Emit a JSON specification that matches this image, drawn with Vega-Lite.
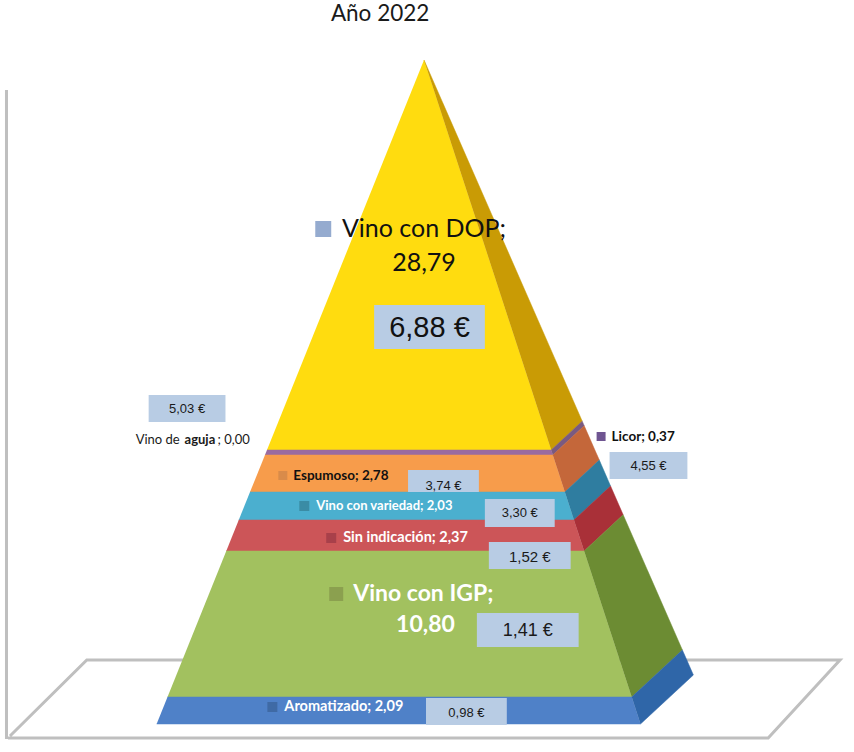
{"$schema":"https://vega.github.io/schema/vega-lite/v6.json","width":854,"height":752,"autosize":{"type":"fit","contains":"padding"},"padding":0,"background":"white","view":{"stroke":null},
"datasets":{
"frame":[{"part":"floor","order":1,"x":6,"y":738},{"part":"floor","order":2,"x":768,"y":738},{"part":"floor","order":3,"x":840,"y":660},{"part":"floor","order":4,"x":85,"y":660},{"part":"floor","order":5,"x":8,"y":736},{"part":"wall","order":1,"x":4.5,"y":90},{"part":"wall","order":2,"x":4.5,"y":739}],
"faces":[
{"p":"DOP front","order":1,"x":423,"y":60},{"p":"DOP front","order":2,"x":550.5,"y":450},{"p":"DOP front","order":3,"x":265.6,"y":450},
{"p":"DOP side","order":1,"x":423,"y":60},{"p":"DOP side","order":2,"x":581.6,"y":421.2},{"p":"DOP side","order":3,"x":550.5,"y":450},
{"p":"Licor front","order":1,"x":265.6,"y":450},{"p":"Licor front","order":2,"x":550.5,"y":450},{"p":"Licor front","order":3,"x":552.1,"y":455},{"p":"Licor front","order":4,"x":263.6,"y":455},
{"p":"Licor side","order":1,"x":550.5,"y":450},{"p":"Licor side","order":2,"x":581.6,"y":421.2},{"p":"Licor side","order":3,"x":583.6,"y":425.8},{"p":"Licor side","order":4,"x":552.1,"y":455},
{"p":"Espumoso front","order":1,"x":263.6,"y":455},{"p":"Espumoso front","order":2,"x":552.1,"y":455},{"p":"Espumoso front","order":3,"x":564.2,"y":492},{"p":"Espumoso front","order":4,"x":248.6,"y":492},
{"p":"Espumoso side","order":1,"x":552.1,"y":455},{"p":"Espumoso side","order":2,"x":583.6,"y":425.8},{"p":"Espumoso side","order":3,"x":598.7,"y":460.1},{"p":"Espumoso side","order":4,"x":564.2,"y":492},
{"p":"Variedad front","order":1,"x":248.6,"y":492},{"p":"Variedad front","order":2,"x":564.2,"y":492},{"p":"Variedad front","order":3,"x":573.3,"y":520},{"p":"Variedad front","order":4,"x":237.3,"y":520},
{"p":"Variedad side","order":1,"x":564.2,"y":492},{"p":"Variedad side","order":2,"x":598.7,"y":460.1},{"p":"Variedad side","order":3,"x":610,"y":486},{"p":"Variedad side","order":4,"x":573.3,"y":520},
{"p":"Sin front","order":1,"x":237.3,"y":520},{"p":"Sin front","order":2,"x":573.3,"y":520},{"p":"Sin front","order":3,"x":583.5,"y":551},{"p":"Sin front","order":4,"x":224.8,"y":551},
{"p":"Sin side","order":1,"x":573.3,"y":520},{"p":"Sin side","order":2,"x":610,"y":486},{"p":"Sin side","order":3,"x":622.6,"y":514.8},{"p":"Sin side","order":4,"x":583.5,"y":551},
{"p":"IGP front","order":1,"x":224.8,"y":551},{"p":"IGP front","order":2,"x":583.5,"y":551},{"p":"IGP front","order":3,"x":631.2,"y":697},{"p":"IGP front","order":4,"x":165.9,"y":697},
{"p":"IGP side","order":1,"x":583.5,"y":551},{"p":"IGP side","order":2,"x":622.6,"y":514.8},{"p":"IGP side","order":3,"x":682,"y":650},{"p":"IGP side","order":4,"x":631.2,"y":697},
{"p":"Aromatizado front","order":1,"x":165.9,"y":697},{"p":"Aromatizado front","order":2,"x":631.2,"y":697},{"p":"Aromatizado front","order":3,"x":640,"y":724},{"p":"Aromatizado front","order":4,"x":155,"y":724},
{"p":"Aromatizado side","order":1,"x":631.2,"y":697},{"p":"Aromatizado side","order":2,"x":682,"y":650},{"p":"Aromatizado side","order":3,"x":693,"y":675},{"p":"Aromatizado side","order":4,"x":640,"y":724}
],
"boxes":[{"label":"5,03 €","x":147,"x2":224,"y":395,"y2":422},{"label":"4,55 €","x":609,"x2":687,"y":452,"y2":479},{"label":"3,74 €","x":407,"x2":478,"y":470,"y2":492},{"label":"3,30 €","x":484,"x2":554,"y":499,"y2":527},{"label":"1,52 €","x":488,"x2":570,"y":542,"y2":569},{"label":"1,41 €","x":476,"x2":578,"y":613,"y2":647},{"label":"0,98 €","x":425,"x2":506,"y":698,"y2":725},{"label":"6,88 €","x":373,"x2":484,"y":305,"y2":349}],
"keys":[{"k":"DOP","x":314,"x2":330,"y":221,"y2":237},{"k":"IGP","x":328,"x2":342,"y":587,"y2":601},{"k":"Licor","x":596,"x2":605,"y":432,"y2":441},{"k":"Espumoso","x":277,"x2":286,"y":471,"y2":480},{"k":"Variedad","x":298,"x2":308,"y":501,"y2":511},{"k":"Sin","x":325,"x2":335,"y":533,"y2":543},{"k":"Aromatizado","x":266,"x2":276,"y":702,"y2":712}]
},
"layer":[
{"data":{"name":"frame"},"mark":{"type":"line","color":"#BFBFBF","strokeWidth":3},"encoding":{"x":{"field":"x","type":"quantitative","scale":{"domain":[0,854],"nice":false},"axis":null},"y":{"field":"y","type":"quantitative","scale":{"domain":[752,0],"nice":false},"axis":null},"detail":{"field":"part"},"order":{"field":"order"}}},
{"data":{"name":"faces"},"mark":{"type":"line","strokeWidth":0.5},"encoding":{"x":{"field":"x","type":"quantitative","axis":null},"y":{"field":"y","type":"quantitative","axis":null},"order":{"field":"order"},
"fill":{"field":"p","type":"nominal","legend":null,"scale":{"domain":["DOP front","DOP side","Licor front","Licor side","Espumoso front","Espumoso side","Variedad front","Variedad side","Sin front","Sin side","IGP front","IGP side","Aromatizado front","Aromatizado side"],"range":["#FFDC0F","#C99B05","#9A6BA0","#7A5A80","#F79C4B","#C4673A","#4BAFCF","#2F7DA0","#CC5558","#A93038","#A2C15F","#6C8C33","#4F81C8","#2F66A8"]}},
"stroke":{"field":"p","type":"nominal","legend":null,"scale":{"domain":["DOP front","DOP side","Licor front","Licor side","Espumoso front","Espumoso side","Variedad front","Variedad side","Sin front","Sin side","IGP front","IGP side","Aromatizado front","Aromatizado side"],"range":["#FFDC0F","#C99B05","#9A6BA0","#7A5A80","#F79C4B","#C4673A","#4BAFCF","#2F7DA0","#CC5558","#A93038","#A2C15F","#6C8C33","#4F81C8","#2F66A8"]}}}},
{"data":{"name":"boxes"},"mark":{"type":"rect","color":"#B8CCE4"},"encoding":{"x":{"field":"x","type":"quantitative","axis":null},"x2":{"field":"x2"},"y":{"field":"y","type":"quantitative","axis":null},"y2":{"field":"y2"}}},
{"data":{"name":"keys"},"mark":{"type":"rect"},"encoding":{"x":{"field":"x","type":"quantitative","axis":null},"x2":{"field":"x2"},"y":{"field":"y","type":"quantitative","axis":null},"y2":{"field":"y2"},"color":{"field":"k","type":"nominal","legend":null,"scale":{"domain":["DOP","IGP","Licor","Espumoso","Variedad","Sin","Aromatizado"],"range":["#95ABCF","#8BA04F","#6F5591","#D98B4A","#3A8CA5","#A8404A","#3F6AA5"]}}}},
{"data":{"values":[{"t":"5,03 €","x":185.5,"y":409},{"t":"4,55 €","x":648,"y":466},{"t":"3,74 €","x":442.5,"y":486},{"t":"3,30 €","x":519,"y":513},{"t":"0,98 €","x":465.5,"y":713}]},"mark":{"type":"text","font":"Liberation Sans","fontSize":13,"color":"#1a1a1a","align":"center","baseline":"middle"},"encoding":{"x":{"field":"x","type":"quantitative","axis":null},"y":{"field":"y","type":"quantitative","axis":null},"text":{"field":"t"}}},
{"data":{"values":[{"t":"1,52 €","x":529,"y":557}]},"mark":{"type":"text","font":"Liberation Sans","fontSize":15,"color":"#1a1a1a","align":"center","baseline":"middle"},"encoding":{"x":{"field":"x","type":"quantitative","axis":null},"y":{"field":"y","type":"quantitative","axis":null},"text":{"field":"t"}}},
{"data":{"values":[{"t":"1,41 €","x":527,"y":631}]},"mark":{"type":"text","font":"Liberation Sans","fontSize":18,"color":"#1a1a1a","align":"center","baseline":"middle"},"encoding":{"x":{"field":"x","type":"quantitative","axis":null},"y":{"field":"y","type":"quantitative","axis":null},"text":{"field":"t"}}},
{"data":{"values":[{"t":"6,88 €","x":428.5,"y":328}]},"mark":{"type":"text","font":"Liberation Sans","fontSize":29,"color":"#111111","align":"center","baseline":"middle"},"encoding":{"x":{"field":"x","type":"quantitative","axis":null},"y":{"field":"y","type":"quantitative","axis":null},"text":{"field":"t"}}},
{"data":{"values":[{"t":"Año 2022","x":379,"y":14}]},"mark":{"type":"text","font":"Lato","fontSize":22.5,"color":"#1a1a1a","align":"center","baseline":"middle"},"encoding":{"x":{"field":"x","type":"quantitative","axis":null},"y":{"field":"y","type":"quantitative","axis":null},"text":{"field":"t"}}},
{"data":{"values":[{"t":"Vino con DOP;","x":423,"y":229},{"t":"28,79","x":423,"y":263}]},"mark":{"type":"text","font":"Lato","fontSize":25,"color":"#111111","align":"center","baseline":"middle"},"encoding":{"x":{"field":"x","type":"quantitative","axis":null},"y":{"field":"y","type":"quantitative","axis":null},"text":{"field":"t"}}},
{"data":{"values":[{"t":"Vino con IGP;","x":352,"y":594},{"t":"10,80","x":395,"y":625}]},"mark":{"type":"text","font":"Lato","fontSize":23,"fontWeight":"bold","color":"white","align":"left","baseline":"middle"},"encoding":{"x":{"field":"x","type":"quantitative","axis":null},"y":{"field":"y","type":"quantitative","axis":null},"text":{"field":"t"}}},
{"data":{"values":[{"t":"Licor; 0,37","x":611,"y":437},{"t":"Espumoso; 2,78","x":292,"y":476}]},"mark":{"type":"text","font":"Lato","fontSize":13.5,"fontWeight":"bold","color":"#111111","align":"left","baseline":"middle"},"encoding":{"x":{"field":"x","type":"quantitative","axis":null},"y":{"field":"y","type":"quantitative","axis":null},"text":{"field":"t"}}},
{"data":{"values":[{"t":"Vino con variedad; 2,03","x":315,"y":506}]},"mark":{"type":"text","font":"Lato","fontSize":13,"fontWeight":"bold","color":"white","align":"left","baseline":"middle"},"encoding":{"x":{"field":"x","type":"quantitative","axis":null},"y":{"field":"y","type":"quantitative","axis":null},"text":{"field":"t"}}},
{"data":{"values":[{"t":"Sin indicación; 2,37","x":342,"y":538},{"t":"Aromatizado; 2,09","x":283,"y":707}]},"mark":{"type":"text","font":"Lato","fontSize":14.5,"fontWeight":"bold","color":"white","align":"left","baseline":"middle"},"encoding":{"x":{"field":"x","type":"quantitative","axis":null},"y":{"field":"y","type":"quantitative","axis":null},"text":{"field":"t"}}},
{"data":{"values":[{"t":"Vino de","x":134,"y":440},{"t":"; 0,00","x":216,"y":440}]},"mark":{"type":"text","font":"Lato","fontSize":13,"color":"#1a1a1a","align":"left","baseline":"middle"},"encoding":{"x":{"field":"x","type":"quantitative","axis":null},"y":{"field":"y","type":"quantitative","axis":null},"text":{"field":"t"}}},
{"data":{"values":[{"t":"aguja","x":183,"y":440}]},"mark":{"type":"text","font":"Lato","fontSize":13,"fontWeight":"bold","color":"#1a1a1a","align":"left","baseline":"middle"},"encoding":{"x":{"field":"x","type":"quantitative","axis":null},"y":{"field":"y","type":"quantitative","axis":null},"text":{"field":"t"}}}
]}
